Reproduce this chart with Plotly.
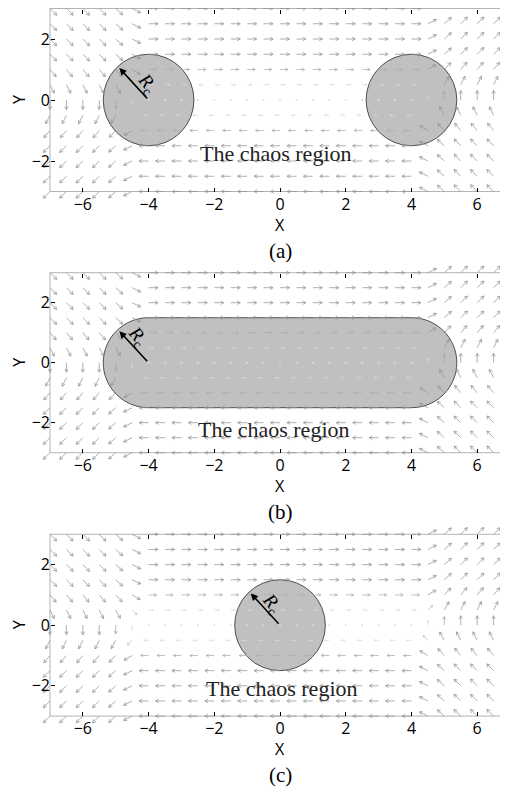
import math
import plotly.graph_objects as go

# ---- values ----
GRID_X = [-7.0, -6.5, -6.0, -5.5, -5.0, -4.5, -4.0, -3.5, -3.0, -2.5, -2.0, -1.5, -1.0, -0.5,
          0.0, 0.5, 1.0, 1.5, 2.0, 2.5, 3.0, 3.5, 4.0, 4.5, 5.0, 5.5, 6.0, 6.5, 7.0]
GRID_Y = [-3.0, -2.5, -2.0, -1.5, -1.0, -0.5, 0.0, 0.5, 1.0, 1.5, 2.0, 2.5, 3.0]
# horizontal part of the field, one value per row
U_ROW = [-1, -1, -1, -1, -0.85, -0.5, 0, 0.5, 0.85, 1, 1, 1, 1]
# vertical part of the field, one value per column
V_COL = [-1, -1, -1, -1, -0.9, -0.5, 0, 0, 0, 0, 0, 0, 0, 0, 0, 0, 0, 0, 0, 0, 0, 0, 0,
         0.5, 0.9, 1, 1, 1, 1]

X_TICKS = [-6, -4, -2, 0, 2, 4, 6]
Y_TICKS = [-2, 0, 2]
CAPTIONS = ["(a)", "(b)", "(c)"]
CIRCLE_CENTERS = [[-4, 4], [], [0]]       # panel (b) uses the stadium
STADIUM_ENDS = [-4, 4]
RC_X, RC_Y = 1.38, 1.5
RC_CENTER = [-4, -4, 0]
RC_TIP = (-0.89, 1.05)
RC_LABEL = [(-0.05, 0.51), (-0.33, 0.87), (-0.25, 0.70)]
CHAOS_POS = [(-0.12, -1.74), (-0.18, -2.24), (0.06, -2.1)]

# ---- layout geometry (pixels of the figure; the page adds an 8px body margin) ----
W, H = 500, 784
SX = 32.86                        # px per x unit
X0_PX = 42                        # px of x = -7
PANEL_TOP = [0.5, 264.7, 526.3]   # px of y = 3
SY = [30.5, 30.0, 30.3]           # px per y unit
X_RANGE = [-7.4, -7 + (W - X0_PX) / SX]
SANS = "Open Sans, sans-serif"
SERIF = "Liberation Serif, Times New Roman, serif"
AX = dict(showline=False, showgrid=False, zeroline=False, automargin=False,
          ticks="inside", ticklen=4, tickcolor="black")


def fy(py):
    return 1 - py / H


fig = go.Figure()
layout = dict(width=W, height=H, margin=dict(l=0, r=0, t=0, b=0, autoexpand=False),
              paper_bgcolor="white", plot_bgcolor="white", showlegend=False)
shapes, annotations = [], []

for k in range(3):
    n = "" if k == 0 else str(k + 1)
    xr, yr = "x" + n, "y" + n
    T, sy = PANEL_TOP[k], SY[k]
    y_top = min(3.25, 3 + T / sy)
    y_range = [-3.3, y_top]

    # quiver field
    groups, dots_x, dots_y = {}, [], []
    for i, x in enumerate(GRID_X):
        for j, y in enumerate(GRID_Y):
            u, v = U_ROW[j], V_COL[i]
            m = min(1.0, math.hypot(u, v))
            if m < 1e-6:
                dots_x.append(x)
                dots_y.append(y)
                continue
            th = math.atan2(v, u)
            L = 9.5 * m
            tx, ty = x + L * math.cos(th) / SX, y + L * math.sin(th) / sy
            h = 0.38 * L
            hl = (tx + h * math.cos(th + math.pi - 0.5) / SX, ty + h * math.sin(th + math.pi - 0.5) / sy)
            hr = (tx + h * math.cos(th + math.pi + 0.5) / SX, ty + h * math.sin(th + math.pi + 0.5) / sy)
            lvl = round(m, 2)
            gx, gy = groups.setdefault(lvl, ([], []))
            gx += [x, tx, None, hl[0], tx, hr[0], None]
            gy += [y, ty, None, hl[1], ty, hr[1], None]
    for lvl, (gx, gy) in groups.items():
        g = round(238 - 90 * lvl ** 2)
        fig.add_trace(go.Scatter(x=gx, y=gy, mode="lines", xaxis=xr, yaxis=yr,
                                 line=dict(color=f"rgb({g},{g},{g})", width=0.75),
                                 hoverinfo="skip", cliponaxis=False))
    fig.add_trace(go.Scatter(x=dots_x, y=dots_y, mode="markers", xaxis=xr, yaxis=yr,
                             marker=dict(size=2, color="rgb(220,220,220)"), hoverinfo="skip"))
    # dummy trace so the mirrored-tick axes get drawn
    fig.add_trace(go.Scatter(x=[None], y=[None], xaxis="x" + str(k + 4), yaxis="y" + str(k + 4),
                             hoverinfo="skip"))

    bottom_px = T + 6 * sy
    layout["xaxis" + n] = dict(AX, domain=[(X0_PX - 0.4 * SX) / W, 1], range=X_RANGE,
                               anchor="free", position=fy(bottom_px), tickvals=X_TICKS,
                               ticklabelstandoff=1,
                               tickfont=dict(family=SANS, size=16, color="black"))
    layout["yaxis" + n] = dict(AX, domain=[fy(T + 6.3 * sy), fy(T - (y_top - 3) * sy)],
                               range=y_range, anchor="free", position=X0_PX / W,
                               tickvals=Y_TICKS,
                               tickfont=dict(family=SANS, size=16, color="black"))
    layout["xaxis" + str(k + 4)] = dict(AX, overlaying=xr, side="top", anchor="free",
                                        position=fy(T), range=X_RANGE, tickvals=X_TICKS,
                                        showticklabels=False)
    layout["yaxis" + str(k + 4)] = dict(AX, overlaying=yr, side="right", anchor="free",
                                        position=1, range=y_range, tickvals=Y_TICKS,
                                        showticklabels=False)

    # frame
    box = dict(type="line", xref=xr, yref=yr, line=dict(color="#b4b4b4", width=1), layer="below")
    shapes.append(dict(box, x0=GRID_X[0], x1=GRID_X[0], y0=GRID_Y[0], y1=GRID_Y[-1]))
    shapes.append(dict(box, x0=GRID_X[0], x1=X_RANGE[1], y0=GRID_Y[-1], y1=GRID_Y[-1]))
    shapes.append(dict(box, x0=GRID_X[0], x1=X_RANGE[1], y0=GRID_Y[0], y1=GRID_Y[0]))

    # chaos regions
    region = dict(xref=xr, yref=yr, fillcolor="#c0c0c0", line=dict(color="#505050", width=1),
                  layer="below")
    for cx in CIRCLE_CENTERS[k]:
        shapes.append(dict(region, type="circle", x0=cx - RC_X, x1=cx + RC_X, y0=-RC_Y, y1=RC_Y))
    if k == 1:
        a, b = STADIUM_ENDS
        c = 0.5523
        path = (f"M {a},{RC_Y} L {b},{RC_Y} "
                f"C {b + c * RC_X},{RC_Y} {b + RC_X},{c * RC_Y} {b + RC_X},0 "
                f"C {b + RC_X},{-c * RC_Y} {b + c * RC_X},{-RC_Y} {b},{-RC_Y} "
                f"L {a},{-RC_Y} "
                f"C {a - c * RC_X},{-RC_Y} {a - RC_X},{-c * RC_Y} {a - RC_X},0 "
                f"C {a - RC_X},{c * RC_Y} {a - c * RC_X},{RC_Y} {a},{RC_Y} Z")
        shapes.append(dict(region, type="path", path=path))

    # R_c arrow and label
    cx0 = RC_CENTER[k]
    annotations.append(dict(x=cx0 + RC_TIP[0], y=RC_TIP[1], ax=cx0, ay=0, xref=xr, yref=yr,
                            axref=xr, ayref=yr, text="", showarrow=True, arrowhead=2,
                            arrowsize=0.9, arrowwidth=1.6, arrowcolor="black", standoff=0))
    annotations.append(dict(x=cx0 + RC_LABEL[k][0], y=RC_LABEL[k][1], xref=xr, yref=yr,
                            text="<i>R</i><sub>c</sub>", showarrow=False, textangle=50,
                            font=dict(family=SERIF, size=19, color="black")))
    annotations.append(dict(x=CHAOS_POS[k][0], y=CHAOS_POS[k][1], xref=xr, yref=yr,
                            text="The chaos region", showarrow=False,
                            font=dict(family=SERIF, size=22, color="#222222")))
    # axis titles and caption
    mid = dict(showarrow=False, xanchor="center", yanchor="middle", borderpad=0)
    annotations.append(dict(mid, x=0, y=fy(bottom_px + 33), xref=xr, yref="paper", text="X",
                            font=dict(family=SANS, size=16, color="black")))
    annotations.append(dict(mid, x=11 / W, y=0, xref="paper", yref=yr, text="Y", textangle=-90,
                            font=dict(family=SANS, size=16, color="black")))
    annotations.append(dict(mid, x=0, y=fy(bottom_px + 59), xref=xr, yref="paper",
                            text=CAPTIONS[k], font=dict(family=SERIF, size=21, color="black")))

layout["shapes"] = shapes
layout["annotations"] = annotations
fig.update_layout(**layout)
fig.write_html("out.html")
